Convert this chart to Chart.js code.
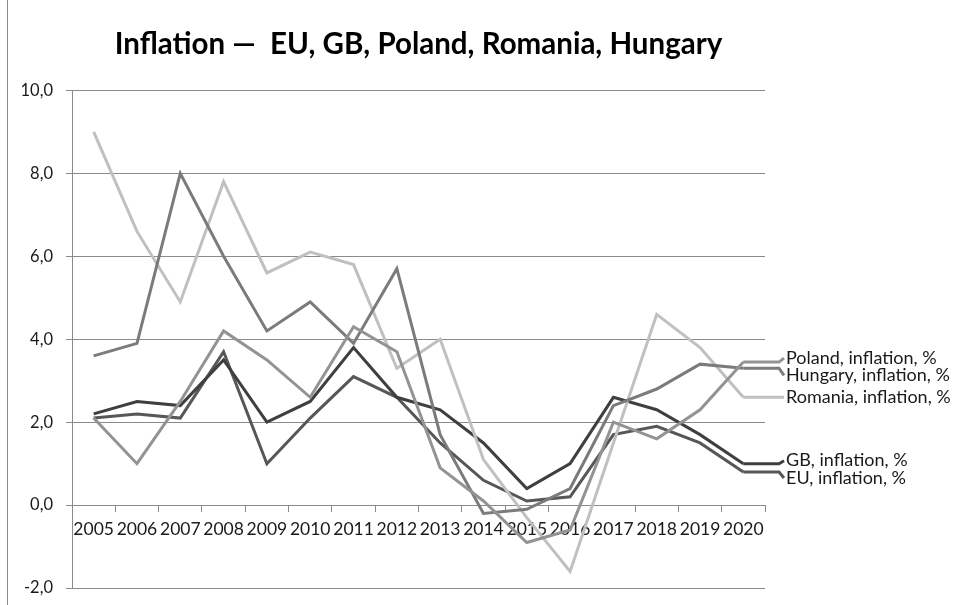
<!DOCTYPE html>
<html>
<head>
<meta charset="utf-8">
<script src="https://cdn.jsdelivr.net/npm/chart.js@4.4.1/dist/chart.umd.min.js"></script>
<style>
  html, body { margin: 0; padding: 0; background: #fff; overflow: hidden; }
  #wrap { position: relative; width: 966px; height: 605px; overflow: hidden; }
  #edge { position: absolute; left: 7px; top: 0; width: 0; height: 605px; border-left: 1px solid #8a8a8a; }
</style>
</head>
<body>
<div id="wrap">
  <canvas id="lineChart" width="966" height="611"></canvas>
  <div id="edge"></div>
</div>
<script>
'use strict';

const years = ['2005', '2006', '2007', '2008', '2009', '2010', '2011', '2012',
  '2013', '2014', '2015', '2016', '2017', '2018', '2019', '2020'];

const poland = [2.1, 1.0, 2.5, 4.2, 3.5, 2.6, 4.3, 3.7, 0.9, 0.1, -0.9, -0.6, 2.0, 1.6, 2.3, 3.45];
const hungary = [3.6, 3.9, 8.0, 6.0, 4.2, 4.9, 3.9, 5.7, 1.7, -0.2, -0.1, 0.4, 2.4, 2.8, 3.4, 3.3];
const romania = [9.0, 6.6, 4.9, 7.8, 5.6, 6.1, 5.8, 3.3, 4.0, 1.1, -0.3, -1.6, 1.5, 4.6, 3.8, 2.6];
const gb = [2.2, 2.5, 2.4, 3.5, 2.0, 2.5, 3.8, 2.6, 2.3, 1.5, 0.4, 1.0, 2.6, 2.3, 1.7, 1.0];
const eu = [2.1, 2.2, 2.1, 3.7, 1.0, 2.1, 3.1, 2.6, 1.5, 0.6, 0.1, 0.2, 1.7, 1.9, 1.5, 0.8];

const yTicks = [-2, 0, 2, 4, 6, 8, 10];

const FONT = 'Lato, "Open Sans", sans-serif';

// end-of-line labels, nudged up/down so they don't overlap
const labelNudge = [-4, 7, 0, -3, 6];

const endLabels = {
  id: 'endLabels',
  afterDatasetsDraw(chart) {
    const ctx = chart.ctx;
    const right = chart.chartArea.right;
    ctx.save();
    chart.data.datasets.forEach(function(ds, i) {
      const meta = chart.getDatasetMeta(i);
      const last = meta.data[meta.data.length - 1];
      const ly = last.y + labelNudge[i];
      ctx.strokeStyle = ds.borderColor;
      ctx.lineWidth = ds.borderWidth;
      ctx.beginPath();
      ctx.moveTo(last.x, last.y);
      ctx.lineTo(right + 14, last.y);
      ctx.lineTo(right + 19, ly);
      ctx.stroke();
      ctx.fillStyle = '#1a1a1a';
      ctx.font = '18px ' + FONT;
      ctx.textBaseline = 'middle';
      ctx.textAlign = 'left';
      ctx.fillText(ds.label, right + 21, ly);
    });
    ctx.restore();
  }
};

function series(label, values, color) {
  return {
    label: label,
    data: values,
    borderColor: color,
    backgroundColor: color,
    borderWidth: 3,
    pointRadius: 0,
    tension: 0,
    fill: false
  };
}

const ctx = document.getElementById('lineChart');

let lineChart = new Chart(ctx, {
  type: 'line',
  data: {
    labels: years,
    datasets: [
      series('Poland, inflation, %', poland, '#939393'),
      series('Hungary, inflation, %', hungary, '#7b7b7b'),
      series('Romania, inflation, %', romania, '#c0c0c0'),
      series('GB, inflation, %', gb, '#3f3f3f'),
      series('EU, inflation, %', eu, '#575757')
    ]
  },
  plugins: [endLabels],
  options: {
    responsive: false,
    animation: false,
    layout: {
      padding: { left: 8, right: 201, top: 0, bottom: 0 }
    },
    plugins: {
      legend: { display: false },
      tooltip: { enabled: false },
      title: {
        display: true,
        fullSize: false,
        text: 'Inflation \u2014  EU, GB, Poland, Romania, Hungary',
        color: '#000',
        font: { family: FONT, size: 29.5, weight: 'bold' },
        padding: { top: 27, bottom: 28 }
      }
    },
    scales: {
      x: {
        position: { y: 0 },
        offset: true,
        afterFit(scale) {
          scale.height = 0;
        },
        grid: {
          offset: true,
          drawOnChartArea: false,
          drawTicks: true,
          tickLength: 6,
          color: '#8a8a8a'
        },
        border: { color: '#8a8a8a', width: 1 },
        ticks: {
          color: '#1a1a1a',
          font: { family: FONT, size: 17.5 },
          maxRotation: 0,
          autoSkip: false,
          padding: 8
        }
      },
      y: {
        min: -2,
        max: 10,
        afterBuildTicks(scale) {
          scale.ticks = yTicks.map(function(v) { return { value: v }; });
        },
        afterFit(scale) {
          scale.width = 64;
        },
        grid: {
          color: '#8a8a8a',
          lineWidth: 1,
          tickLength: 6
        },
        border: { color: '#8a8a8a', width: 1 },
        ticks: {
          color: '#1a1a1a',
          font: { family: FONT, size: 16.5 },
          padding: 13,
          callback: function(v) { return v.toFixed(1).replace('.', ','); }
        }
      }
    }
  }
});
</script>
</body>
</html>
